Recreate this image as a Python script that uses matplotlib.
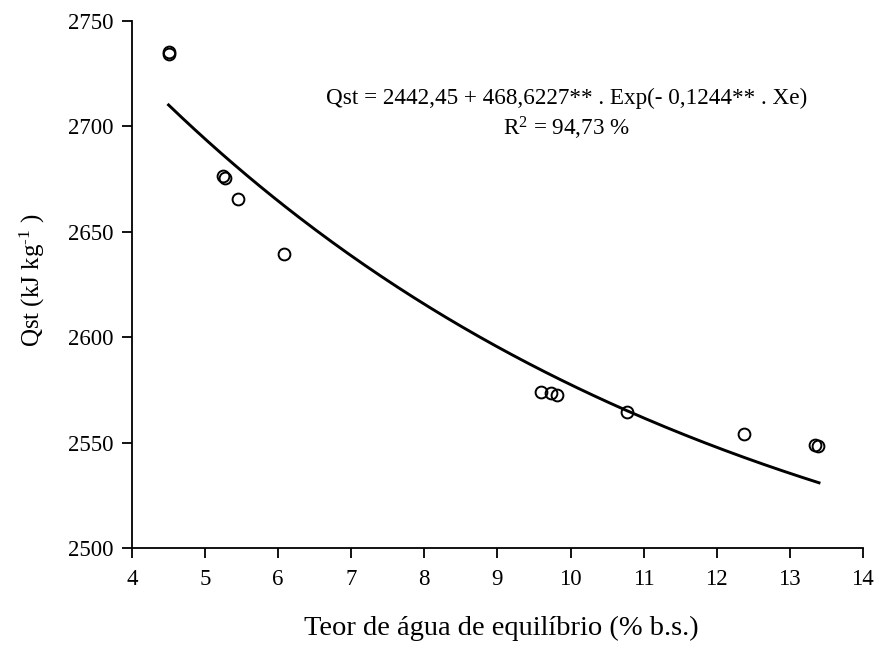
import numpy as np
import matplotlib
matplotlib.use("Agg")
import matplotlib.pyplot as plt

xe = [4.51, 4.51, 5.25, 5.27, 5.45, 6.08, 9.60, 9.73, 9.81, 10.77, 12.37, 13.34, 13.39]
qst = [2735.5, 2734.5, 2676.5, 2675.5, 2665.5, 2639.5, 2574.1, 2573.4, 2572.6, 2564.4, 2554.1, 2548.9, 2548.6]

# fitted model given in the chart's own annotation
a, b, c = 2442.45, 468.6227, 0.1244
x_fit_range = [4.5, 13.4]

x_ticks = [4, 5, 6, 7, 8, 9, 10, 11, 12, 13, 14]
y_ticks = [2500, 2550, 2600, 2650, 2700, 2750]

plt.rcParams['font.family'] = ['Liberation Serif', 'DejaVu Serif']
plt.rcParams['mathtext.fontset'] = 'custom'
plt.rcParams['mathtext.rm'] = 'Liberation Serif'
plt.rcParams['mathtext.it'] = 'Liberation Serif:italic'

fig = plt.figure(figsize=(8.76, 6.45), dpi=100)
ax = fig.add_axes([0.1507, 0.1504, 0.985 - 0.1507, 0.9674 - 0.1504])

xf = np.linspace(x_fit_range[0], x_fit_range[1], 200)
ax.plot(xf, a + b * np.exp(-c * xf), color='black', lw=2.1)
ax.plot(xe, qst, 'o', mfc='none', mec='black', mew=1.4, ms=8.5)

ax.set_xlim(4, 14)
ax.set_ylim(2500, 2750)
ax.set_xticks(x_ticks)
ax.set_yticks(y_ticks)
ax.spines['top'].set_visible(False)
ax.spines['right'].set_visible(False)
for s in ['left', 'bottom']:
    ax.spines[s].set_linewidth(1.3)
ax.tick_params(direction='out', length=7, width=1.3, labelsize=16.5)
ax.tick_params(axis='x', pad=8)
ax.tick_params(axis='y', pad=6)

ax.set_xlabel('Teor de água de equilíbrio (% b.s.)', fontsize=20.5)
ax.xaxis.set_label_coords(0.505, -0.128)
ax.set_ylabel('Qst (kJ kg$^{\\text{-}1}$ )', fontsize=18)
ax.yaxis.set_label_coords(-0.116, 0.508)

ax.text(0.594, 0.842, 'Qst = 2442,45 + 468,6227** . Exp(- 0,1244** . Xe)',
        transform=ax.transAxes, ha='center', va='baseline', fontsize=16.7)
ax.text(0.594, 0.782, 'R$^{2}$ = 94,73 %',
        transform=ax.transAxes, ha='center', va='baseline', fontsize=16.7)

fig.savefig('out.png', dpi=100)
